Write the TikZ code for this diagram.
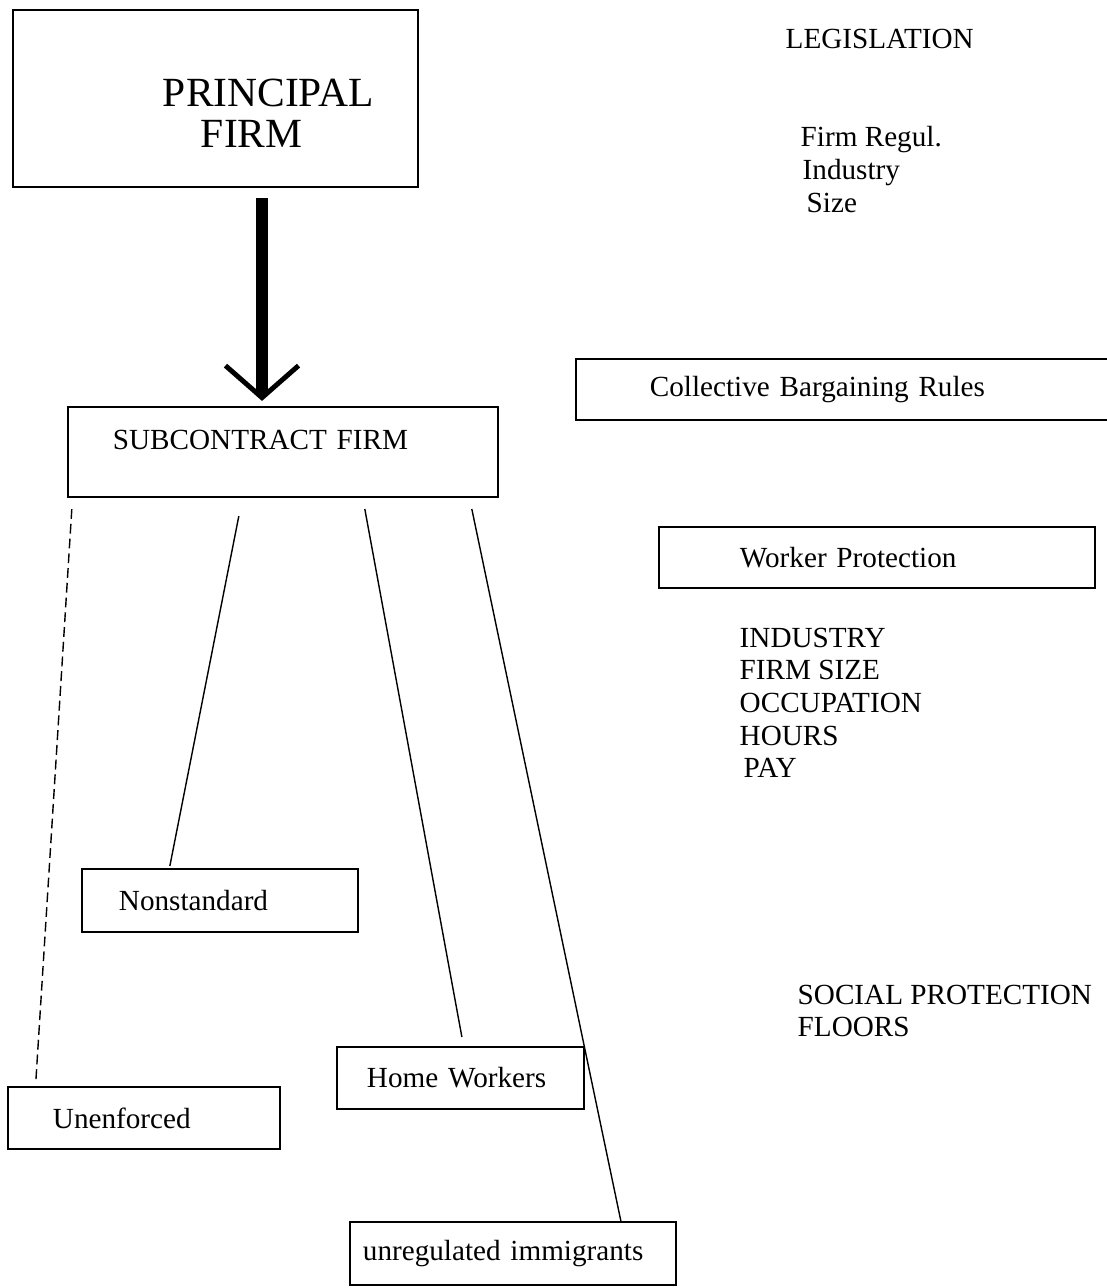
\documentclass[tikz,border=0pt]{standalone}
\usepackage{fontspec}
\setmainfont{Liberation Serif}
\usetikzlibrary{arrows.meta}

\begin{document}
\begin{tikzpicture}[x=0.01cm,y=-0.01cm,
  box/.style={draw, line width=0.6pt, inner sep=0pt, align=left, font=\fontsize{8.3}{9.3}\selectfont},
  txt/.style={inner sep=0pt, anchor=north west, align=left, font=\fontsize{8.3}{9.3}\selectfont},
  link/.style={line width=0.4pt},
  bigarrow/.style={line width=3.4pt, -{Straight Barb[length=3.2mm,width=7.3mm,line width=1.4pt]}}]
\useasboundingbox (0,0) rectangle (1106,1288);
%% firms
\node[box, text width=4.05cm, minimum height=1.77cm, text height=0.57cm, font=\fontsize{11.8}{11.7}\selectfont] (principal) at (215.5,98.5) {\hspace*{1.5cm}PRINCIPAL\\\hspace*{1.88cm}FIRM};
\node[box, text width=4.30cm, minimum height=0.90cm, text depth=0.24cm] (sub) at (283,452) {\hspace*{0.45cm}SUBCONTRACT FIRM};
\draw[bigarrow] ([shift={(46.5,10)}]principal.south) -- ([shift={(-21,-5)}]sub.north);
%% workers
\node[box, text width=2.76cm, minimum height=0.63cm] (nonstd) at (220,900.5) {\hspace*{0.37cm}Nonstandard};
\node[box, text width=2.72cm, minimum height=0.62cm] (unenf) at (144,1118) {\hspace*{0.45cm}Unenforced};
\node[box, text width=2.47cm, minimum height=0.62cm] (home) at (460.5,1078) {\hspace*{0.30cm}Home Workers};
\node[box, text width=3.26cm, minimum height=0.63cm] (immig) at (513,1253.5) {\hspace*{0.13cm}unregulated immigrants};
\draw[link, dash pattern=on 2.8pt off 1.4pt] ([shift={(5,11)}]sub.south west) -- ([shift={(29,-5)}]unenf.north west);
\draw[link] ([shift={(172,18)}]sub.south west) -- ([shift={(89,-2)}]nonstd.north west);
\draw[link] ([shift={(298,11)}]sub.south west) -- ([shift={(126,-9)}]home.north west);
\draw[link] ([shift={(405,11)}]sub.south west) -- ([shift={(272,0)}]immig.north west);
%% rules
\node[txt] (legis) at (785,28) {LEGISLATION};
\node[txt] (regul) at (800,126) {Firm Regul.\\\hspace*{0.02cm}Industry\\\hspace*{0.06cm}Size};
\node[box, text width=5.36cm, minimum height=0.61cm] (coll) at (844,389.5) {\hspace*{0.74cm}Collective Bargaining Rules};
\node[box, text width=4.36cm, minimum height=0.61cm] (wp) at (877,557.5) {\hspace*{0.81cm}Worker Protection};
\node[txt] (wplist) at (739,627) {INDUSTRY\\FIRM SIZE\\OCCUPATION\\HOURS\\\hspace*{0.04cm}PAY};
\node[txt] (social) at (797,984) {SOCIAL PROTECTION\\FLOORS};
\end{tikzpicture}
\end{document}
